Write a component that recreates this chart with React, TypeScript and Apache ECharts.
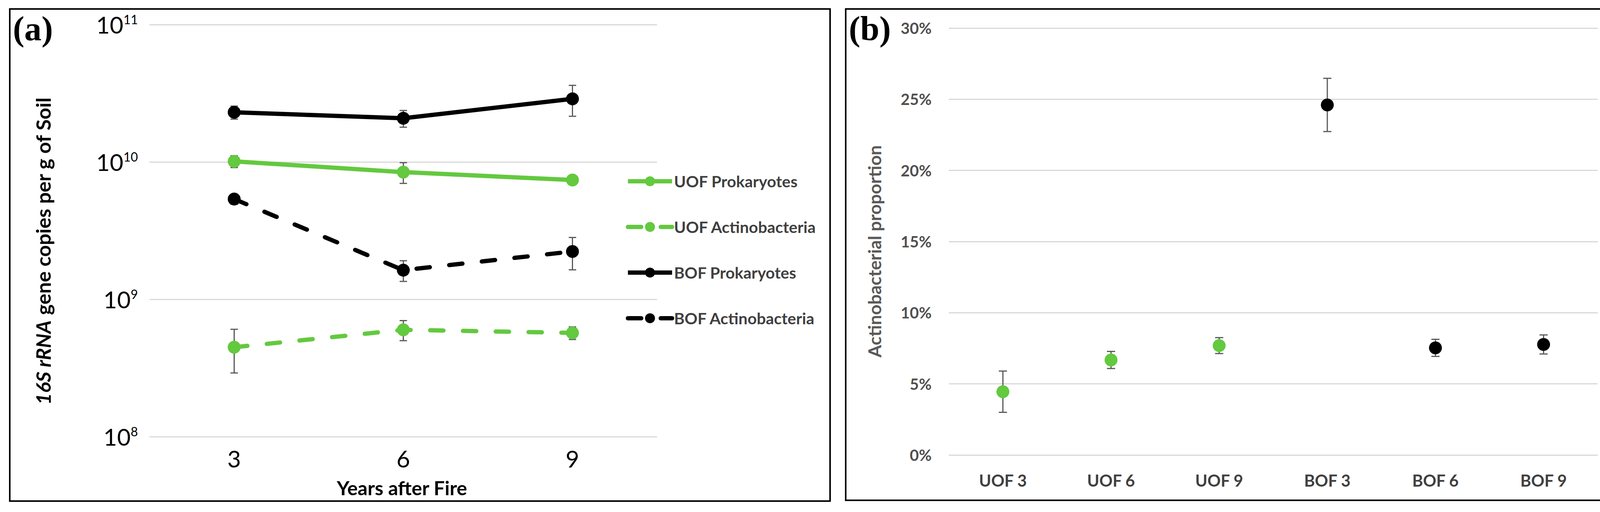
import React, { useEffect, useRef } from "react";
import * as echarts from "echarts";

// ---------- Panel (a) data ----------
const years = ["3", "6", "9"];
const seriesNamesA = ["UOF Prokaryotes", "UOF Actinobacteria", "BOF Prokaryotes", "BOF Actinobacteria"];
const uofProk = [1.01e10, 0.843e10, 0.739e10];
const uofProkErr = [0.1e10, 0.145e10, 0.05e10];
const uofAct = [4.48e8, 6.0e8, 5.7e8];
const uofActErr = [1.57e8, 1.0e8, 0.6e8];
const bofProk = [2.3e10, 2.08e10, 2.88e10];
const bofProkErr = [0.25e10, 0.29e10, 0.73e10];
const bofAct = [5.37e9, 1.63e9, 2.23e9];
const bofActErr = [0.45e9, 0.28e9, 0.59e9];
const logMin = 1e8;
const logMax = 1e11;

// ---------- Panel (b) data ----------
const groupsB = ["UOF 3", "UOF 6", "UOF 9", "BOF 3", "BOF 6", "BOF 9"];
const uofProportion = [4.45, 6.68, 7.69];
const uofProportionErr = [1.45, 0.6, 0.56];
const bofProportion = [24.6, 7.53, 7.77];
const bofProportionErr = [1.87, 0.6, 0.67];
const pctMin = 0;
const pctMax = 30;
const pctStep = 5;

const FONT = "Lato, 'Open Sans', sans-serif";
const SERIF = "'Liberation Serif', 'DejaVu Serif', serif";
const GREEN = "#63C93F";
const BLACK = "#000000";
const GRID_COLOR = "#D9D9D9";
const ERR_COLOR = "#595959";

function errorBars(
  xAxisIndex: number,
  yAxisIndex: number,
  data: number[][],
  cap: number
) {
  return {
    type: "custom",
    xAxisIndex,
    yAxisIndex,
    z: 1,
    silent: true,
    encode: { x: 0, y: [1, 2] },
    data,
    renderItem: (_params: any, api: any) => {
      const x = api.value(0);
      const lo = api.coord([x, api.value(1)]);
      const hi = api.coord([x, api.value(2)]);
      const h = cap / 2;
      const style = { stroke: ERR_COLOR, lineWidth: 3 };
      return {
        type: "group",
        children: [
          { type: "line", shape: { x1: lo[0], y1: lo[1], x2: hi[0], y2: hi[1] }, style },
          { type: "line", shape: { x1: hi[0] - h, y1: hi[1], x2: hi[0] + h, y2: hi[1] }, style },
          { type: "line", shape: { x1: lo[0] - h, y1: lo[1], x2: lo[0] + h, y2: lo[1] }, style },
        ],
      };
    },
  };
}

const toErr = (vals: number[], errs: number[], offset = 0) =>
  vals.map((v, i) => [i + offset, v - errs[i], v + errs[i]]);

function lineSeries(name: string, data: number[], color: string, dashed: boolean) {
  return {
    type: "line",
    name,
    xAxisIndex: 0,
    yAxisIndex: 0,
    data,
    z: 3,
    symbol: "circle",
    symbolSize: 33,
    itemStyle: { color, opacity: 1 },
    lineStyle: dashed
      ? { color, width: 11, type: [34, 50], cap: "round" }
      : { color, width: 11 },
  };
}

export default function App() {
  const ref = useRef<HTMLDivElement>(null);

  useEffect(() => {
    document.body.style.margin = "0";
    if (!ref.current) return;
    const chart = echarts.init(ref.current, undefined, { renderer: "svg" });

    const option: any = {
      animation: false,
      backgroundColor: "#ffffff",
      grid: [
        { left: 383, top: 63, width: 1299, height: 1056 },
        { left: 2429, top: 72, width: 1661, height: 1094 },
      ],
      legend: {
        data: seriesNamesA,
        orient: "vertical",
        left: 1597,
        top: 439,
        itemWidth: 113,
        itemHeight: 32,
        itemGap: 76,
        lineStyle: { width: 11 },
        textStyle: { fontFamily: FONT, fontSize: 41, fontWeight: "bold", color: "#404040" },
      },
      xAxis: [
        {
          type: "category",
          gridIndex: 0,
          data: years,
          boundaryGap: true,
          axisLine: { show: false },
          axisTick: { show: false },
          axisLabel: { fontFamily: FONT, fontSize: 60, color: "#000", margin: 26 },
        },
        {
          type: "category",
          gridIndex: 1,
          data: groupsB,
          boundaryGap: true,
          axisLine: { show: false },
          axisTick: { show: false },
          axisLabel: { fontFamily: FONT, fontSize: 42, fontWeight: "bold", color: "#404040", margin: 44 },
        },
      ],
      yAxis: [
        {
          type: "log",
          gridIndex: 0,
          logBase: 10,
          min: logMin,
          max: logMax,
          axisLine: { show: false },
          axisTick: { show: false },
          splitLine: { show: true, lineStyle: { color: GRID_COLOR, width: 3 } },
          axisLabel: {
            margin: 30,
            formatter: (v: number) => `{b|10}{s|${Math.round(Math.log10(v))}}`,
            rich: {
              b: { fontFamily: FONT, fontSize: 60, color: "#000", lineHeight: 60 },
              s: { fontFamily: FONT, fontSize: 32, color: "#000", verticalAlign: "top", lineHeight: 32 },
            },
          },
        },
        {
          type: "value",
          gridIndex: 1,
          min: pctMin,
          max: pctMax,
          interval: pctStep,
          axisLine: { show: false },
          axisTick: { show: false },
          splitLine: { show: true, lineStyle: { color: GRID_COLOR, width: 3 } },
          axisLabel: {
            margin: 44,
            formatter: "{value}%",
            fontFamily: FONT,
            fontSize: 40,
            fontWeight: "bold",
            color: "#505050",
          },
        },
      ],
      series: [
        errorBars(0, 0, toErr(uofProk, uofProkErr), 19),
        errorBars(0, 0, toErr(uofAct, uofActErr), 19),
        errorBars(0, 0, toErr(bofProk, bofProkErr), 19),
        errorBars(0, 0, toErr(bofAct, bofActErr), 19),
        lineSeries("UOF Prokaryotes", uofProk, GREEN, false),
        lineSeries("UOF Actinobacteria", uofAct, GREEN, true),
        lineSeries("BOF Prokaryotes", bofProk, BLACK, false),
        lineSeries("BOF Actinobacteria", bofAct, BLACK, true),
        errorBars(1, 1, toErr(uofProportion, uofProportionErr, 0), 21),
        errorBars(1, 1, toErr(bofProportion, bofProportionErr, 3), 21),
        {
          type: "scatter",
          name: "UOF proportion",
          xAxisIndex: 1,
          yAxisIndex: 1,
          z: 3,
          symbol: "circle",
          symbolSize: 33,
          itemStyle: { color: GREEN, opacity: 1 },
          data: uofProportion.map((v, i) => [i, v]),
        },
        {
          type: "scatter",
          name: "BOF proportion",
          xAxisIndex: 1,
          yAxisIndex: 1,
          z: 3,
          symbol: "circle",
          symbolSize: 33,
          itemStyle: { color: BLACK, opacity: 1 },
          data: bofProportion.map((v, i) => [i + 3, v]),
        },
      ],
      graphic: [
        {
          type: "rect",
          silent: true,
          shape: { x: 25, y: 23, width: 2100, height: 1261 },
          style: { fill: "none", stroke: "#000", lineWidth: 4 },
        },
        {
          type: "rect",
          silent: true,
          shape: { x: 2165, y: 23, width: 1966, height: 1259 },
          style: { fill: "none", stroke: "#000", lineWidth: 4 },
        },
        {
          type: "text",
          x: 33,
          y: 73,
          style: { text: "(a)", fontFamily: SERIF, fontSize: 88, fontWeight: "bold", fill: "#000", verticalAlign: "middle" },
        },
        {
          type: "text",
          x: 2173,
          y: 73,
          style: { text: "(b)", fontFamily: SERIF, fontSize: 88, fontWeight: "bold", fill: "#000", verticalAlign: "middle" },
        },
        {
          type: "text",
          x: 110,
          y: 643,
          rotation: Math.PI / 2,
          style: {
            text: "{i|16S rRNA} gene copies per g of Soil",
            fontFamily: FONT,
            fontSize: 52,
            fontWeight: "bold",
            fill: "#000",
            align: "center",
            verticalAlign: "middle",
            rich: {
              i: { fontFamily: FONT, fontSize: 52, fontWeight: "bold", fontStyle: "italic", fill: "#000" },
            },
          },
        },
        {
          type: "text",
          x: 1029,
          y: 1250,
          style: {
            text: "Years after Fire",
            fontFamily: FONT,
            fontSize: 50,
            fontWeight: "bold",
            fill: "#000",
            align: "center",
            verticalAlign: "middle",
          },
        },
        {
          type: "text",
          x: 2238,
          y: 644,
          rotation: Math.PI / 2,
          style: {
            text: "Actinobacterial proportion",
            fontFamily: FONT,
            fontSize: 46,
            fontWeight: "bold",
            fill: "#595959",
            align: "center",
            verticalAlign: "middle",
          },
        },
      ],
    };

    chart.setOption(option);
    return () => chart.dispose();
  }, []);

  return <div ref={ref} style={{ width: 4155, height: 1312 }} />;
}
